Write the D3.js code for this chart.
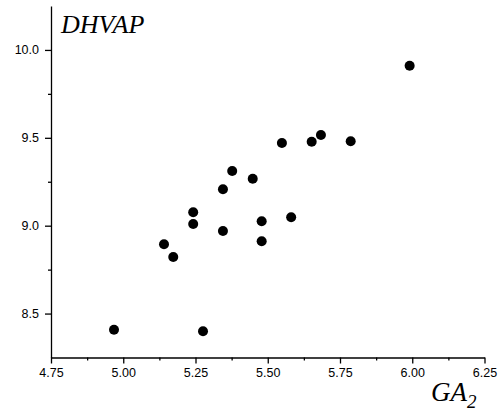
<!DOCTYPE html>
<html>
<head>
<meta charset="utf-8">
<script src="https://cdn.jsdelivr.net/npm/d3@7"></script>
<style>
  body { margin: 0; background: #fff; }
  .tick text { font-family: "Liberation Sans", Arial, sans-serif; font-size: 12.5px; fill: #000; }
</style>
</head>
<body>
<svg id="chart" width="502" height="414"></svg>
<script>
// GA2 vs DHVAP
const ga2   = [4.968, 5.141, 5.173, 5.242, 5.242, 5.276, 5.345, 5.479, 5.479, 5.581,
               5.345, 5.377, 5.448, 5.549, 5.652, 5.684, 5.787, 5.991]
const dhvap = [8.408, 8.894, 8.822, 9.076, 9.010, 8.399, 8.970, 9.025, 8.911, 9.048,
               9.207, 9.311, 9.267, 9.470, 9.478, 9.516, 9.480, 9.910]
const xTicks = [4.75, 5.00, 5.25, 5.50, 5.75, 6.00, 6.25]
const yTicks = [8.5, 9.0, 9.5, 10.0]

let svg = d3.select("#chart")
let x = d3.scaleLinear().domain([4.75, 6.25]).range([51, 484.5])
let y = d3.scaleLinear().domain([8.25, 10.25]).range([357.5, 6])

// minor ticks first, then the major axis on top
svg.append("g")
    .attr("transform", "translate(0,357.5)")
    .call(d3.axisBottom(x).tickValues(d3.range(4.875, 6.25, 0.25)).tickSize(3).tickFormat(""))
    .call(g => g.select(".domain").remove())
svg.append("g")
    .attr("transform", "translate(51,0)")
    .call(d3.axisLeft(y).tickValues([8.75, 9.25, 9.75]).tickSize(3).tickFormat(""))
    .call(g => g.select(".domain").remove())

svg.append("g")
    .attr("transform", "translate(0,357.5)")
    .call(d3.axisBottom(x).tickValues(xTicks).tickSize(6).tickSizeOuter(0).tickPadding(5).tickFormat(d3.format(".2f")))
svg.append("g")
    .attr("transform", "translate(51,0)")
    .call(d3.axisLeft(y).tickValues(yTicks).tickSize(6).tickSizeOuter(0).tickPadding(6).tickFormat(d3.format(".1f")))

svg.selectAll(".domain, .tick line").attr("stroke", "#000").attr("stroke-width", 1.3)

svg.append("g").selectAll("circle")
    .data(ga2.map((d, i) => [d, dhvap[i]]))
    .enter().append("circle")
    .attr("cx", d => x(d[0]))
    .attr("cy", d => y(d[1]))
    .attr("r", 5)
    .attr("fill", "#000")

svg.append("text")
    .attr("x", 61).attr("y", 33)
    .style("font-family", "Liberation Serif, Times New Roman, serif")
    .style("font-style", "italic")
    .style("font-size", "26px")
    .text("DHVAP")

let lab = svg.append("text")
    .attr("x", 431).attr("y", 401)
    .style("font-family", "Liberation Serif, Times New Roman, serif")
    .style("font-style", "italic")
    .style("font-size", "27px")
lab.append("tspan").text("GA")
lab.append("tspan").attr("dy", 7).style("font-size", "19px").text("2")
</script>
</body>
</html>
